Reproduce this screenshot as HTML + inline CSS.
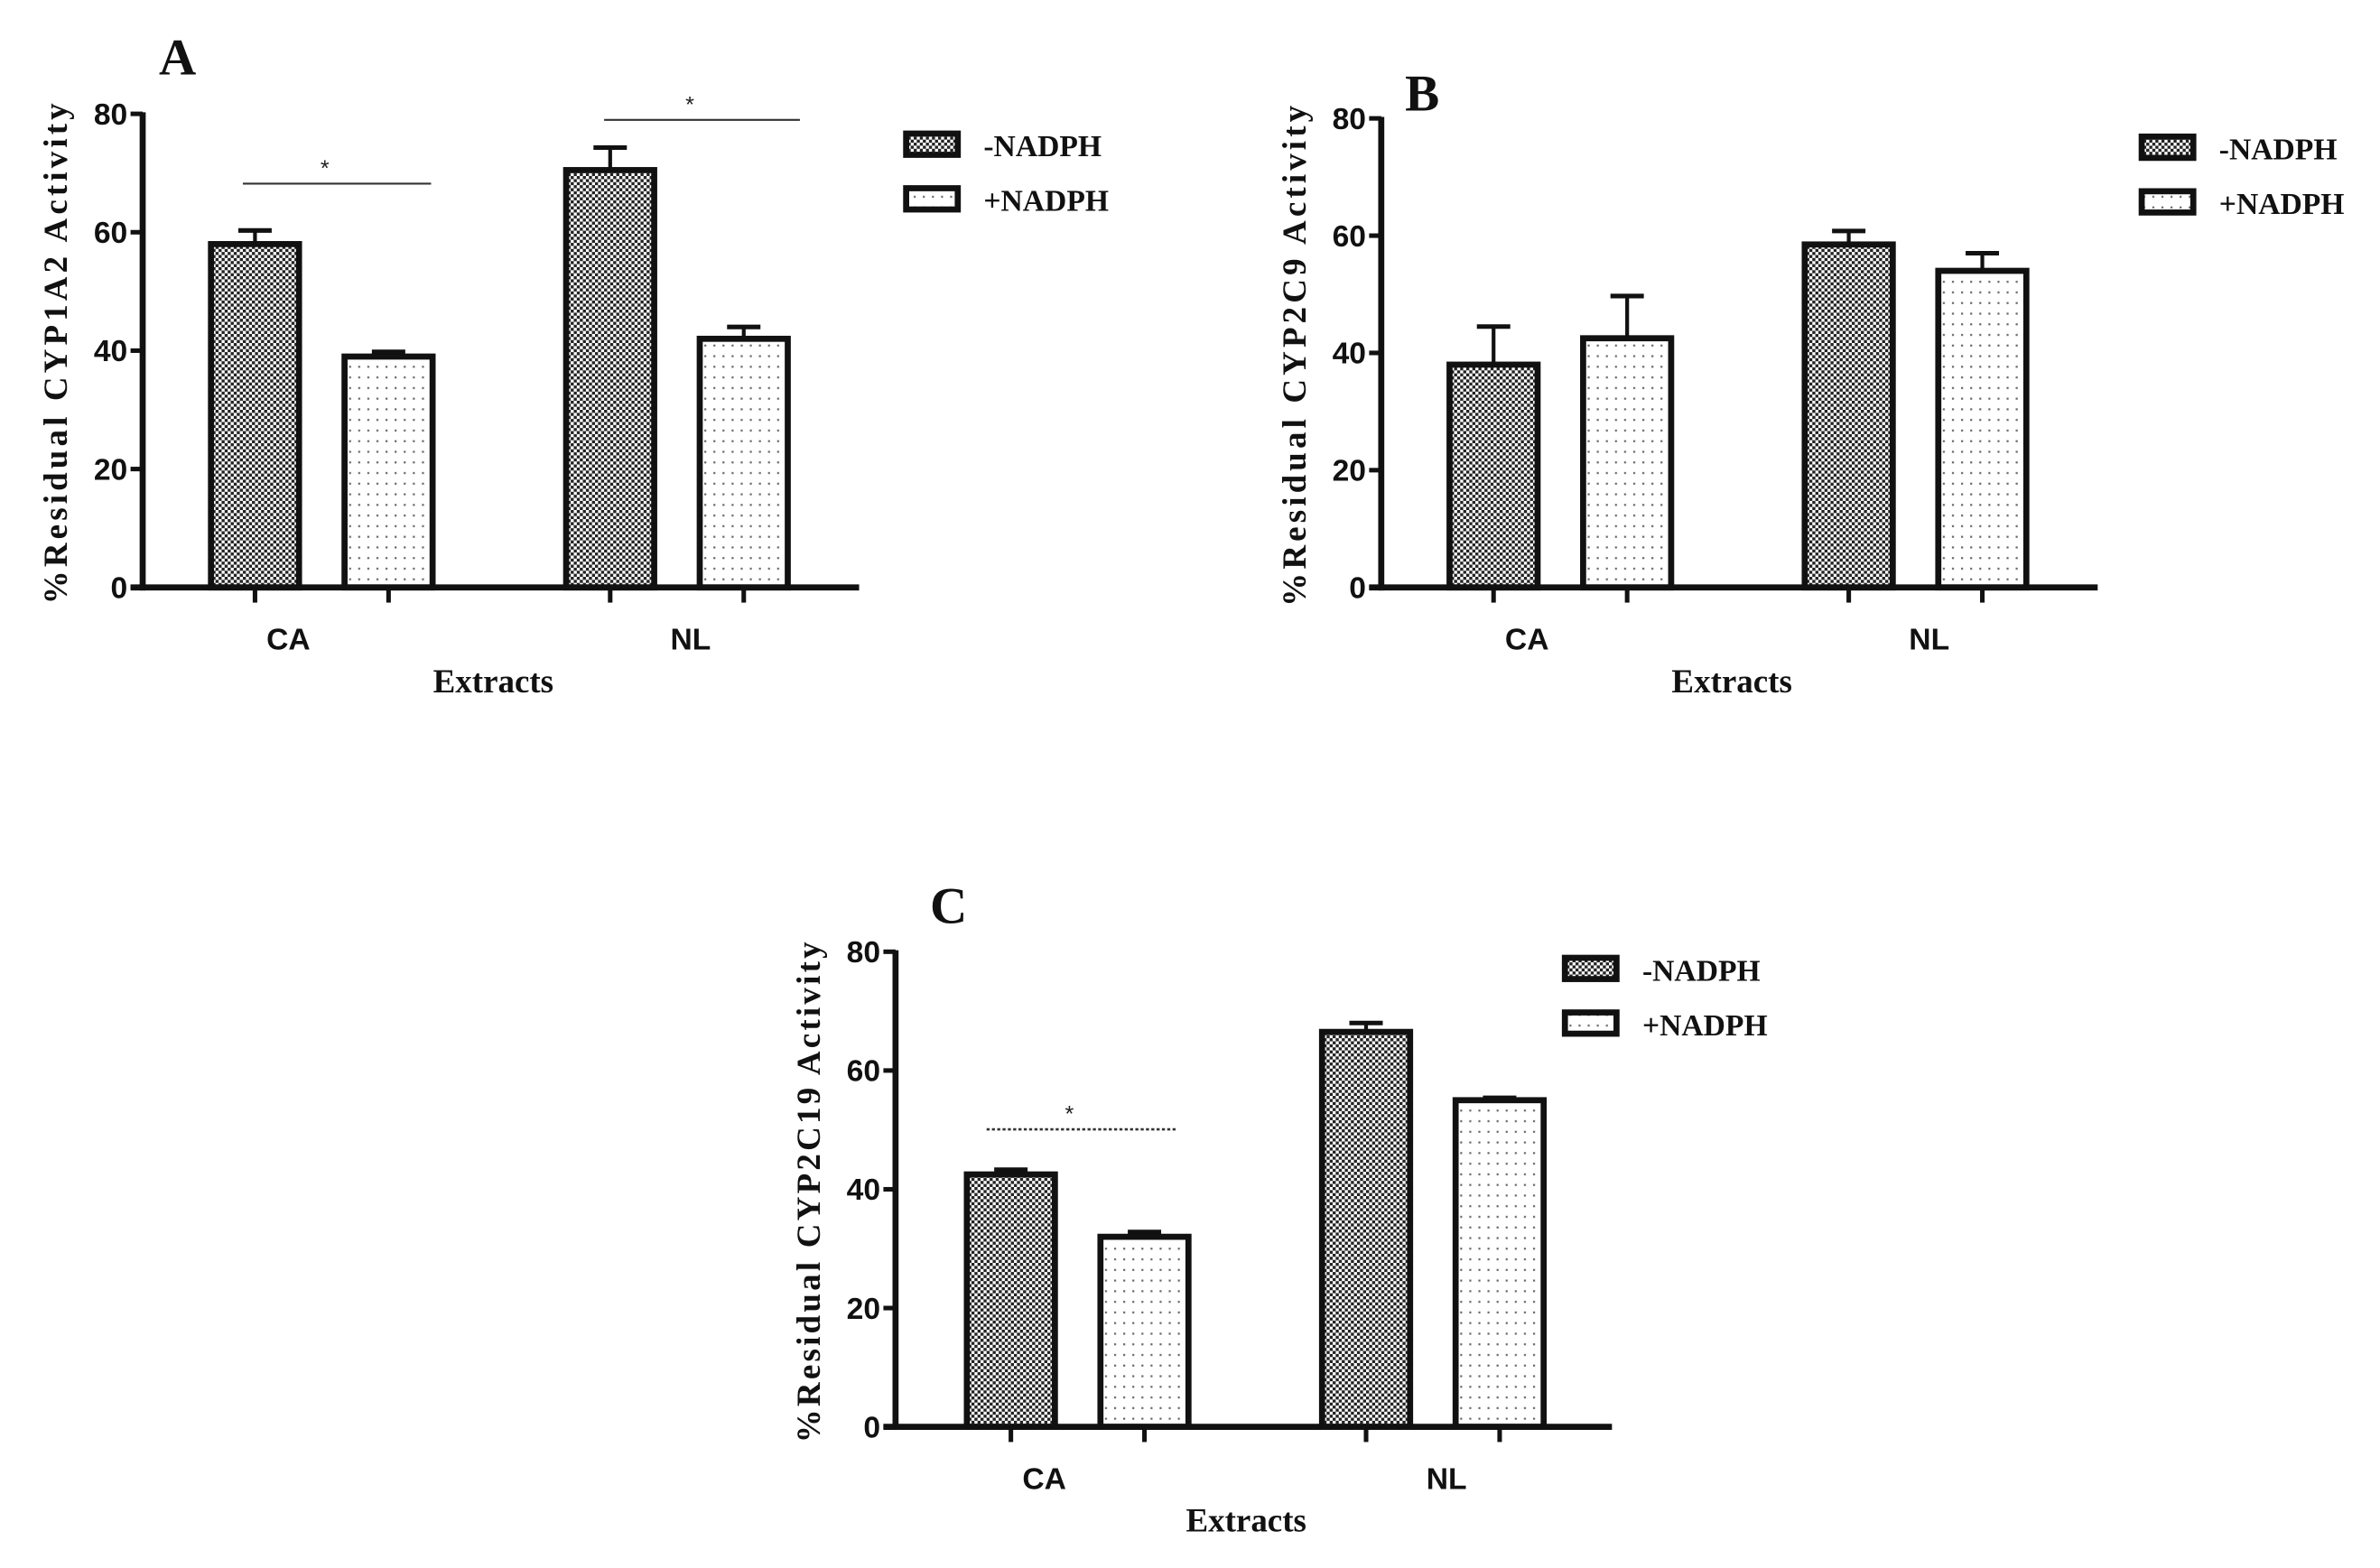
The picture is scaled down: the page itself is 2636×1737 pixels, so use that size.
<!DOCTYPE html>
<html><head><meta charset="utf-8"><style>
html,body{margin:0;padding:0;background:#fff;}
svg{display:block;}
.tick{font-family:"Liberation Sans Narrow","Liberation Sans",sans-serif;font-weight:bold;font-size:20px;fill:#111;}
.serif{font-family:"Liberation Serif",serif;font-weight:bold;fill:#111;}
</style></head><body>
<svg id="fig" xmlns="http://www.w3.org/2000/svg" width="2636" height="1737" viewBox="0 0 1568 1033" preserveAspectRatio="none">
<defs>
<pattern id="checker" width="4" height="4" patternUnits="userSpaceOnUse">
<rect width="4" height="4" fill="#fff"/><rect width="2" height="2" fill="#222"/><rect x="2" y="2" width="2" height="2" fill="#222"/>
</pattern>
<pattern id="dots" width="6" height="7" patternUnits="userSpaceOnUse">
<rect width="6" height="7" fill="#fff"/><rect x="2" y="3" width="1.3" height="1.3" fill="#666"/>
</pattern>
</defs>
<g id="root"></g>
</svg>
<script>
const categories = ["CA", "NL"];
const seriesNames = ["-NADPH", "+NADPH"];
const yTicks = [0, 20, 40, 60, 80];
// Panel A
const aMinus = [58, 70.5];
const aPlus = [39, 42];
const aMinusErr = [2.3, 3.8];
const aPlusErr = [0.8, 2];
// Panel B
const bMinus = [38, 58.5];
const bPlus = [42.5, 54];
const bMinusErr = [6.5, 2.3];
const bPlusErr = [7.2, 3];
// Panel C
const cMinus = [42.5, 66.5];
const cPlus = [32, 55];
const cMinusErr = [0.8, 1.5];
const cPlusErr = [0.8, 0.4];

const NS = "http://www.w3.org/2000/svg";
const root = document.getElementById('root');
function mk(tag, attrs, parent, text) {
  const e = document.createElementNS(NS, tag);
  for (const k in attrs) e.setAttribute(k, attrs[k]);
  if (text !== undefined) e.textContent = text;
  (parent || root).appendChild(e);
  return e;
}

function panel(cfg) {
  const g = mk('g', {});
  
  
  const y = v => cfg.y0 - v * (cfg.y0 - cfg.y80) / 80;
  const x = (gi, si) => cfg.xStart + gi * 234 + si * 88; // bar centre
  const bw = 58;
  const vals = [cfg.minus, cfg.plus], errs = [cfg.minusErr, cfg.plusErr];
  for (let gi = 0; gi < categories.length; gi++) {
    for (let si = 0; si < 2; si++) {
      const v = vals[si][gi], e = errs[si][gi], cx = x(gi, si);
      const eg = mk('g', {}, g);
      
      
      mk('line', {x1: cx, x2: cx, y1: y(v), y2: y(v + e), stroke: '#111', 'stroke-width': 2.5}, eg);
      mk('line', {x1: cx - 11, x2: cx + 11, y1: y(v + e), y2: y(v + e), stroke: '#111', 'stroke-width': 3}, eg);
      const r = mk('rect', {x: cx - bw / 2, y: y(v), width: bw, height: y(0) - y(v), fill: si ? 'url(#dots)' : 'url(#checker)', stroke: '#111', 'stroke-width': 4}, g);
      
      
      const t = mk('line', {x1: cx, x2: cx, y1: y(0), y2: y(0) + 10, stroke: '#111', 'stroke-width': 3}, g);
      
      
    }
    const lbl = mk('text', {x: (x(gi, 0) + x(gi, 1)) / 2 - 22 + gi * 31, y: cfg.y0 + 41, 'text-anchor': 'middle', class: 'tick'}, g, categories[gi]);
    
    
  }
  const ya = mk('line', {x1: cfg.ax, x2: cfg.ax, y1: y(80) - 1, y2: y(0) + 2, stroke: '#111', 'stroke-width': 4}, g);
  
  
  const xa = mk('line', {x1: cfg.ax - 8, x2: cfg.ax + 472, y1: y(0), y2: y(0), stroke: '#111', 'stroke-width': 4}, g);
  
  
  for (const tv of yTicks) {
    const tl = mk('line', {x1: cfg.ax - 8, x2: cfg.ax, y1: y(tv), y2: y(tv), stroke: '#111', 'stroke-width': 3}, g);
    
    
    const tt = mk('text', {x: cfg.ax - 10, y: y(tv) + 7, 'text-anchor': 'end', class: 'tick'}, g, String(tv));
    
    
  }
  const yl = mk('text', {x: 0, y: 0, transform: `translate(${cfg.ax - 50},${(y(0) + y(80)) / 2 + 2}) rotate(-90)`, 'text-anchor': 'middle', class: 'serif', 'font-size': 22, textLength: 330, lengthAdjust: 'spacing'}, g, cfg.ylabel);
  
  
  const xl = mk('text', {x: (cfg.ax + cfg.ax + 472) / 2 - 5, y: cfg.y0 + 69, 'text-anchor': 'middle', class: 'serif', 'font-size': 22}, g, 'Extracts');
  
  
  const pl = mk('text', {x: cfg.letterX, y: cfg.letterY, 'text-anchor': 'middle', class: 'serif', 'font-size': 34}, g, cfg.letter);
  
  
  for (let si = 0; si < 2; si++) {
    const lg = mk('g', {}, g);
    
    
    const ly = cfg.legY + si * 36;
    mk('rect', {x: cfg.legX, y: ly, width: 34, height: 14, fill: si ? 'url(#dots)' : 'url(#checker)', stroke: '#111', 'stroke-width': 4}, lg);
    mk('text', {x: cfg.legX + 51, y: ly + 15, class: 'serif', 'font-size': 20}, lg, seriesNames[si]);
  }
  if (cfg.sig) for (const s of cfg.sig) {
    const sg = mk('g', {}, g);
    
    
    mk('line', Object.assign({x1: s[0], x2: s[1], y1: s[2], y2: s[2], stroke: '#333', 'stroke-width': s[3] ? 1.6 : 1.3}, s[3] ? {'stroke-dasharray': '2,1.5'} : {}), sg);
    mk('text', {x: (s[0] + s[1]) / 2 - 8, y: s[2] - 5, 'text-anchor': 'middle', 'font-family': 'Liberation Sans, sans-serif', 'font-size': 15, fill: '#222'}, sg, '*');
  }
}

panel({letter: 'A', letterX: 117, letterY: 49, ax: 94, y0: 387, y80: 75, xStart: 168,
  minus: aMinus, plus: aPlus, minusErr: aMinusErr, plusErr: aPlusErr,
  ylabel: '%Residual CYP1A2 Activity', legX: 597, legY: 88,
  sig: [[160, 284, 121, false], [398, 527, 79, false]]});
panel({letter: 'B', letterX: 937, letterY: 73, ax: 910, y0: 387, y80: 78, xStart: 984,
  minus: bMinus, plus: bPlus, minusErr: bMinusErr, plusErr: bPlusErr,
  ylabel: '%Residual CYP2C9 Activity', legX: 1411, legY: 90});
panel({letter: 'C', letterX: 625, letterY: 608, ax: 590, y0: 940, y80: 627, xStart: 666,
  minus: cMinus, plus: cPlus, minusErr: cMinusErr, plusErr: cPlusErr,
  ylabel: '%Residual CYP2C19 Activity', legX: 1031, legY: 631,
  sig: [[650, 775, 744, true]]});
</script>
</body></html>
